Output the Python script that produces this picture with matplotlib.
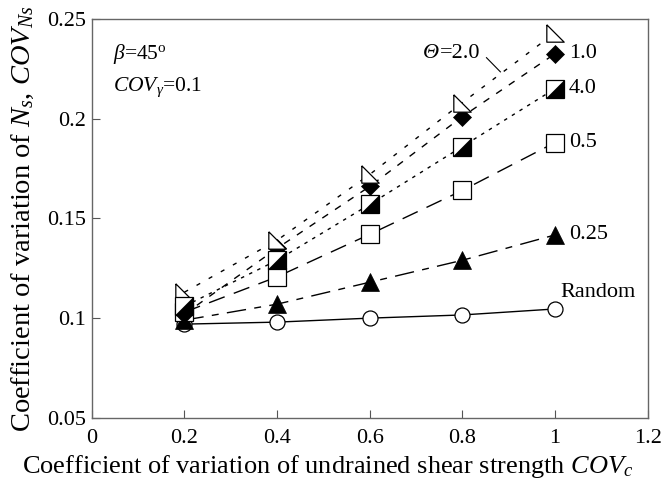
import numpy as np
import matplotlib
matplotlib.use("Agg")
import matplotlib.pyplot as plt

plt.rcParams['font.family'] = ['Liberation Serif', 'DejaVu Serif']
plt.rcParams['mathtext.fontset'] = 'custom'
plt.rcParams['mathtext.rm'] = 'Liberation Serif'
plt.rcParams['mathtext.it'] = 'Liberation Serif:italic'

# x values: COV of undrained shear strength
cov_c = [0.2, 0.4, 0.6, 0.8, 1.0]

# COV of Ns for each scale of fluctuation
ns_random = [0.097, 0.098, 0.100, 0.1016, 0.1046]
ns_025 = [0.099, 0.107, 0.118, 0.129, 0.1417]
ns_05 = [0.103, 0.1207, 0.142, 0.164, 0.188]
ns_40 = [0.106, 0.129, 0.157, 0.186, 0.215]
ns_10 = [0.102, 0.135, 0.166, 0.201, 0.2325]
ns_20 = [0.113, 0.139, 0.172, 0.208, 0.243]

xticks = [0, 0.2, 0.4, 0.6, 0.8, 1.0, 1.2]
yticks = [0.05, 0.1, 0.15, 0.2, 0.25]

fig = plt.figure(figsize=(6.65, 4.94), dpi=100)
ax = fig.add_axes([0.138, 0.154, 0.836, 0.808])

lw = 1.0
# lines first
ax.plot(cov_c, ns_random, color='k', lw=lw, ls='-', zorder=2)
ax.plot(cov_c, ns_025, color='k', lw=lw, ls=(0, (14, 6, 5, 6)), zorder=2)
ax.plot(cov_c, ns_05, color='k', lw=lw, ls=(0, (12, 7)), zorder=2)
ax.plot(cov_c, ns_40, color='k', lw=lw, ls=(0, (2.5, 4)), zorder=2)
ax.plot(cov_c, ns_10, color='k', lw=lw, ls=(0, (5, 6)), zorder=2)
ax.plot(cov_c, ns_20, color='k', lw=lw, ls=(0, (3, 7)), zorder=2)

# markers
ax.plot(cov_c, ns_random, ls='none', marker='o', ms=10.8, mfc='white', mec='k', mew=0.9, zorder=3)
ax.plot(cov_c, ns_025, ls='none', marker='^', ms=12.5, mfc='k', mec='k', mew=0.5, zorder=4)
ax.plot(cov_c, ns_05, ls='none', marker='s', ms=12.5, mfc='white', mec='k', mew=0.9, zorder=5)
ax.plot(cov_c, ns_10, ls='none', marker='D', ms=8.7, mfc='k', mec='k', mew=0.5, zorder=6)
ax.plot(cov_c, ns_20, ls='none', marker=[(-1, 1), (-1, -1), (1, -1), (-1, 1)], ms=12.5,
        mfc='white', mec='k', mew=0.9, zorder=7)
ax.plot(cov_c, ns_40, ls='none', marker='s', ms=12.5, mfc='white', mec='k', mew=0.9, zorder=8)
ax.plot(cov_c, ns_40, ls='none', marker=[(1, 1), (1, -1), (-1, -1), (1, 1)], ms=12.5,
        mfc='k', mec='k', mew=0.5, zorder=9)

fs_lab = 16
ax.text(1.03, 0.2325, '1.0', fontsize=fs_lab, va='center', ha='left')
ax.text(1.03, 0.215, '4.0', fontsize=fs_lab, va='center', ha='left')
ax.text(1.03, 0.188, '0.5', fontsize=fs_lab, va='center', ha='left')
ax.text(1.03, 0.1417, '0.25', fontsize=fs_lab, va='center', ha='left')
ax.text(1.012, 0.113, 'Random', fontsize=fs_lab, va='center', ha='left')
ax.text(0.714, 0.2325, 'Θ', fontsize=fs_lab, va='center', ha='left', style='italic')
ax.text(0.751, 0.2325, '=2.0', fontsize=fs_lab, va='center', ha='left')
ax.plot([0.852, 0.882], [0.2305, 0.2234], color='k', lw=0.8)

ax.text(0.046, 0.2325, r'$\mathit{β}$=45$^{\mathrm{o}}$', fontsize=15.5, va='center', ha='left')
ax.text(0.046, 0.2155, r'$\mathit{COV}_{\mathit{γ}}$=0.1', fontsize=15.5, va='center', ha='left')

ax.set_xlim(0, 1.2)
ax.set_ylim(0.05, 0.25)
ax.set_xticks(xticks)
ax.set_xticklabels(['%g' % t for t in xticks])
ax.set_yticks(yticks)
ax.set_yticklabels(['%g' % t for t in yticks])
ax.tick_params(direction='in', length=6, width=0.8, labelsize=16, color='#555555')
ax.tick_params(axis='x', pad=8)
ax.tick_params(axis='y', pad=4)
for s in ax.spines.values():
    s.set_color('#666666')
    s.set_linewidth(1.0)

fig.text(22 / 665, 1 - 473 / 494,
         r'Coefficient of variation of undrained shear strength $\mathit{COV}_{c}$',
         fontsize=19, ha='left', va='baseline')
fig.text(10 / 665, 1 - 219 / 494,
         r'Coefficient of variation of $\mathit{N}_{s}$, $\mathit{COV}_{Ns}$',
         fontsize=20.5, rotation=90, ha='left', va='center')

fig.savefig('out.png', dpi=100)
